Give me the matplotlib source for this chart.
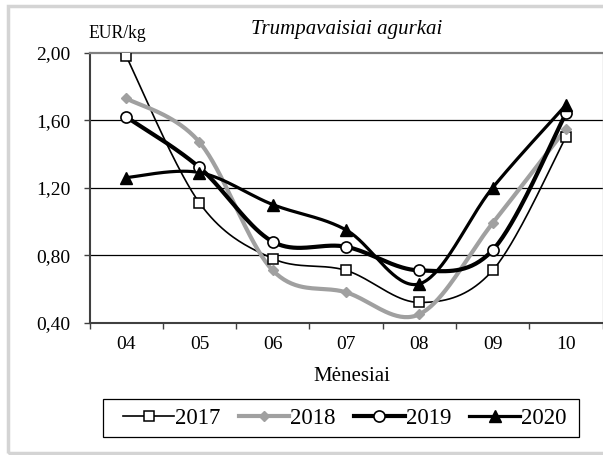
import numpy as np
import matplotlib
matplotlib.use("Agg")
import matplotlib.pyplot as plt
from matplotlib.patches import Rectangle
from matplotlib.ticker import FixedLocator, FuncFormatter

months = ["04", "05", "06", "07", "08", "09", "10"]
y2017 = [1.98, 1.11, 0.78, 0.71, 0.52, 0.71, 1.50]
y2018 = [1.73, 1.47, 0.71, 0.58, 0.45, 0.99, 1.55]
y2019 = [1.62, 1.32, 0.88, 0.85, 0.71, 0.83, 1.64]
y2020 = [1.26, 1.29, 1.10, 0.95, 0.63, 1.20, 1.69]
series_labels = ["2017", "2018", "2019", "2020"]
yticks = [0.40, 0.80, 1.20, 1.60, 2.00]

plt.rcParams["font.family"] = ["Liberation Serif", "DejaVu Serif"]

W, H = 603, 455
fig = plt.figure(figsize=(W / 100, H / 100), dpi=100)
fig.patch.set_facecolor("white")

# outer light-gray frame
fig.patches.append(Rectangle((8 / W, 1 - 453 / H), 700 / W, (453 - 6) / H,
                             transform=fig.transFigure, fill=False,
                             edgecolor="#d4d4d4", linewidth=2.5, zorder=0))
# legend frame
fig.patches.append(Rectangle((103 / W, 1 - 437 / H), 476 / W, 38 / H,
                             transform=fig.transFigure, fill=False,
                             edgecolor="black", linewidth=0.9, zorder=1))

left, right, top, bottom = 89.5, 602.6, 52.7, 322.7
ax = fig.add_axes([left / W, 1 - bottom / H, (right - left) / W, (bottom - top) / H])


def smooth(xs, ys, n=40):
    P = np.column_stack([xs, ys]).astype(float)
    out = []
    m = len(P)
    for i in range(m - 1):
        p0 = P[i - 1] if i > 0 else P[i]
        p1 = P[i]
        p2 = P[i + 1]
        p3 = P[i + 2] if i + 2 < m else P[i + 1]
        c1 = p1 + (p2 - p0) / 6.0
        c2 = p2 - (p3 - p1) / 6.0
        t = np.linspace(0, 1, n)[:, None]
        seg = ((1 - t) ** 3) * p1 + 3 * ((1 - t) ** 2) * t * c1 + 3 * (1 - t) * t ** 2 * c2 + t ** 3 * p2
        out.append(seg if i == 0 else seg[1:])
    s = np.vstack(out)
    return s[:, 0], s[:, 1]


x = np.arange(len(months)) + 0.5
styles = [
    dict(color="black", lw=1.2, marker="s", ms=7.5, mfc="white", mec="black", mew=1.1),
    dict(color="#a0a0a0", lw=3.0, marker="D", ms=5.5, mfc="#a0a0a0", mec="#a0a0a0", mew=1.0),
    dict(color="black", lw=3.0, marker="o", ms=8, mfc="white", mec="black", mew=1.2),
    dict(color="black", lw=2.3, marker="^", ms=8, mfc="black", mec="black", mew=1.0),
]
handles = []
for ys, st, lab in zip([y2017, y2018, y2019, y2020], styles, series_labels):
    sx, sy = smooth(x, ys)
    ax.plot(sx, sy, color=st["color"], lw=st["lw"], solid_capstyle="round", zorder=3)
    ax.plot(x, ys, linestyle="none", marker=st["marker"], ms=st["ms"], mfc=st["mfc"],
            mec=st["mec"], mew=st["mew"], zorder=4)
    h, = ax.plot([], [], color=st["color"], lw=st["lw"], marker=st["marker"], ms=st["ms"],
                 mfc=st["mfc"], mec=st["mec"], mew=st["mew"], label=lab)
    handles.append(h)

ax.set_xlim(0, len(months))
ax.set_ylim(0.40, 2.00)
for g in [0.80, 1.20, 1.60]:
    ax.axhline(g, color="black", lw=0.9, zorder=1)

ax.yaxis.set_major_locator(FixedLocator(yticks))
ax.yaxis.set_major_formatter(FuncFormatter(lambda v, p: f"{v:.2f}".replace(".", ",")))
ax.xaxis.set_major_locator(FixedLocator(np.arange(0, len(months) + 1)))
ax.xaxis.set_major_formatter(FuncFormatter(lambda v, p: ""))
ax.xaxis.set_minor_locator(FixedLocator(x))
ax.set_xticklabels(months, minor=True)
ax.tick_params(axis="x", which="minor", length=0, pad=9.5, labelsize=14)
ax.tick_params(axis="x", which="major", direction="out", length=4.5, width=1.0, color="#404040")
ax.tick_params(axis="y", direction="out", length=4.5, width=1.0, color="#404040", pad=9, labelsize=14)

for side in ["left", "bottom"]:
    ax.spines[side].set_color("#404040")
    ax.spines[side].set_linewidth(1.5)
ax.spines["top"].set_color("#808080")
ax.spines["top"].set_linewidth(1.6)
ax.spines["right"].set_color("#c0c0c0")
ax.spines["right"].set_linewidth(1.0)

fig.text(347 / W, 1 - 34 / H, "Trumpavaisiai agurkai", ha="center", va="baseline",
         fontsize=15, style="italic")
fig.text(117 / W, 1 - 38 / H, "EUR/kg", ha="center", va="baseline", fontsize=12.7)
fig.text(352 / W, 1 - 380.7 / H, "Mėnesiai", ha="center", va="baseline", fontsize=15)

leg = fig.legend(handles=handles, loc="center", bbox_to_anchor=(345 / W, 1 - 418 / H),
                 ncol=4, fontsize=16.5, frameon=False, handlelength=2.2,
                 handletextpad=0.05, columnspacing=0.8, borderpad=0.25)

fig.savefig("out.png", dpi=100)
